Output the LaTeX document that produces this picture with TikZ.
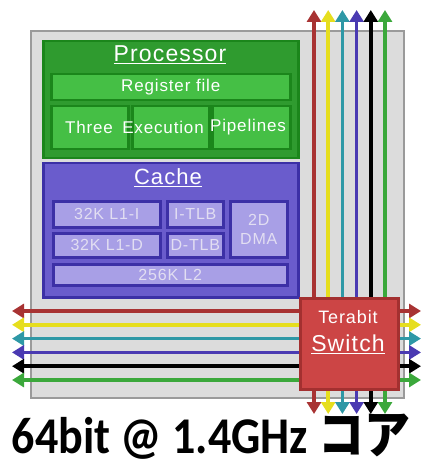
\documentclass[tikz,border=0pt]{standalone}
\usepackage{fontspec}
\setmainfont{Liberation Sans}
\newfontfamily\labelfont{Liberation Sans}[LetterSpace=5.0]
\newfontfamily\captionfont{Carlito}
\newfontfamily\cjkfont{Noto Sans CJK JP}
\usepackage{tikz}
\usetikzlibrary{arrows.meta}

\definecolor{boxgray}{HTML}{DCDCDC}
\definecolor{boxedge}{HTML}{9A9A9A}
\definecolor{procfill}{HTML}{2F9B2F}
\definecolor{procedge}{HTML}{1B861B}
\definecolor{unitfill}{HTML}{45BF45}
\definecolor{cachefill}{HTML}{6A5CCC}
\definecolor{cacheedge}{HTML}{3C30A6}
\definecolor{memfill}{HTML}{A89FE6}
\definecolor{memtext}{HTML}{E2DEF2}
\definecolor{switchfill}{HTML}{CC4545}
\definecolor{switchedge}{HTML}{A33030}
\definecolor{lanered}{HTML}{A83333}
\definecolor{laneyellow}{HTML}{E6DE1E}
\definecolor{laneteal}{HTML}{2E98A6}
\definecolor{lanepurple}{HTML}{4A3AB2}
\definecolor{lanegreen}{HTML}{3BA83B}

\begin{document}
\begin{tikzpicture}[x=1pt,y=-1pt,
        box/.style={anchor=north west,inner sep=0pt,line width=2.5pt},
        txt/.style={text=white,inner sep=0pt,font=\labelfont\fontsize{17}{17}\selectfont},
        memtxt/.style={text=memtext,inner sep=0pt,align=center,font=\labelfont\fontsize{16}{19}\selectfont},
        lane/.style={draw=#1,line width=3.5pt,{Triangle[length=12pt,width=14pt]}-{Triangle[length=12pt,width=14pt]}}]
    \useasboundingbox (0,0) rectangle (424,462);

    % chip outline
    \node[box,fill=boxgray,draw=boxedge,line width=2pt,minimum width=373pt,minimum height=367pt] (chip) at (30,30) {};

    % processor
    \node[box,fill=procfill,draw=procedge,minimum width=255pt,minimum height=117pt] (proc) at (42,40) {};
    \node[txt,font=\labelfont\fontsize{23}{23}\selectfont] (proctitle) at (170,55) {\underline{Processor}};
    \node[box,fill=unitfill,draw=procedge,minimum width=239pt,minimum height=26pt] (regs) at (50,73) {};
    \node[txt] (regstxt) at (regs.center) {Register file};
    \node[box,fill=unitfill,draw=procedge,minimum width=77pt,minimum height=43pt] (pipea) at (50,105) {};
    \node[box,fill=unitfill,draw=procedge,minimum width=77pt,minimum height=43pt] (pipeb) at (131,105) {};
    \node[box,fill=unitfill,draw=procedge,minimum width=78pt,minimum height=43pt] (pipec) at (211,105) {};
    \node[txt] (pipeatxt) at (89,127) {Three};
    \node[txt] (pipebtxt) at (163,127) {Execution};
    \node[txt] (pipectxt) at (248,127) {Pipelines};

    % cache
    \node[box,fill=cachefill,draw=cacheedge,minimum width=255pt,minimum height=134pt] (cache) at (42,162) {};
    \node[txt,font=\labelfont\fontsize{22}{22}\selectfont] (cachetitle) at (168,178) {\underline{Cache}};
    \node[box,fill=memfill,draw=cacheedge,minimum width=107pt,minimum height=26pt] (lonei) at (52,200) {};
    \node[memtxt] at (lonei.center) {32K L1-I};
    \node[box,fill=memfill,draw=cacheedge,minimum width=56pt,minimum height=26pt] (itlb) at (166,200) {};
    \node[memtxt] at (itlb.center) {I-TLB};
    \node[box,fill=memfill,draw=cacheedge,minimum width=107pt,minimum height=24pt] (loned) at (52,232) {};
    \node[memtxt] at (loned.center) {32K L1-D};
    \node[box,fill=memfill,draw=cacheedge,minimum width=56pt,minimum height=24pt] (dtlb) at (166,232) {};
    \node[memtxt] at (dtlb.center) {D-TLB};
    \node[box,fill=memfill,draw=cacheedge,minimum width=57pt,minimum height=56pt] (dma) at (229,200) {};
    \node[memtxt] at (dma.center) {2D\\DMA};
    \node[box,fill=memfill,draw=cacheedge,minimum width=234pt,minimum height=21pt] (ltwo) at (52,263) {};
    \node[memtxt] at (ltwo.center) {256K L2};

    % network lanes
    \foreach \c [count=\i] in {lanered,laneyellow,laneteal,lanepurple,black,lanegreen} {
        \coordinate (north\i) at ({314+14.2*(\i-1)},10);
        \coordinate (south\i) at ({314+14.2*(\i-1)},414);
        \coordinate (west\i) at (12,{311+13.8*(\i-1)});
        \coordinate (east\i) at (421,{311+13.8*(\i-1)});
        \draw[lane=\c] (north\i) -- (south\i);
        \draw[lane=\c] (west\i) -- (east\i);
    }

    % switch
    \node[box,fill=switchfill,draw=switchedge,minimum width=98pt,minimum height=91pt] (switch) at (299,297) {};
    \node[txt,font=\labelfont\fontsize{18}{18}\selectfont] (swtop) at (348,317) {Terabit};
    \node[txt,font=\labelfont\fontsize{23}{23}\selectfont] (swbot) at (348,344) {\underline{Switch}};

    \node[anchor=base,inner sep=0pt] (caption) at (211,453)
        {\scalebox{1}[1.12]{\captionfont\bfseries\fontsize{46}{46}\selectfont 64bit @ 1.4GHz {\cjkfont\bfseries コア}}};
\end{tikzpicture}
\end{document}
